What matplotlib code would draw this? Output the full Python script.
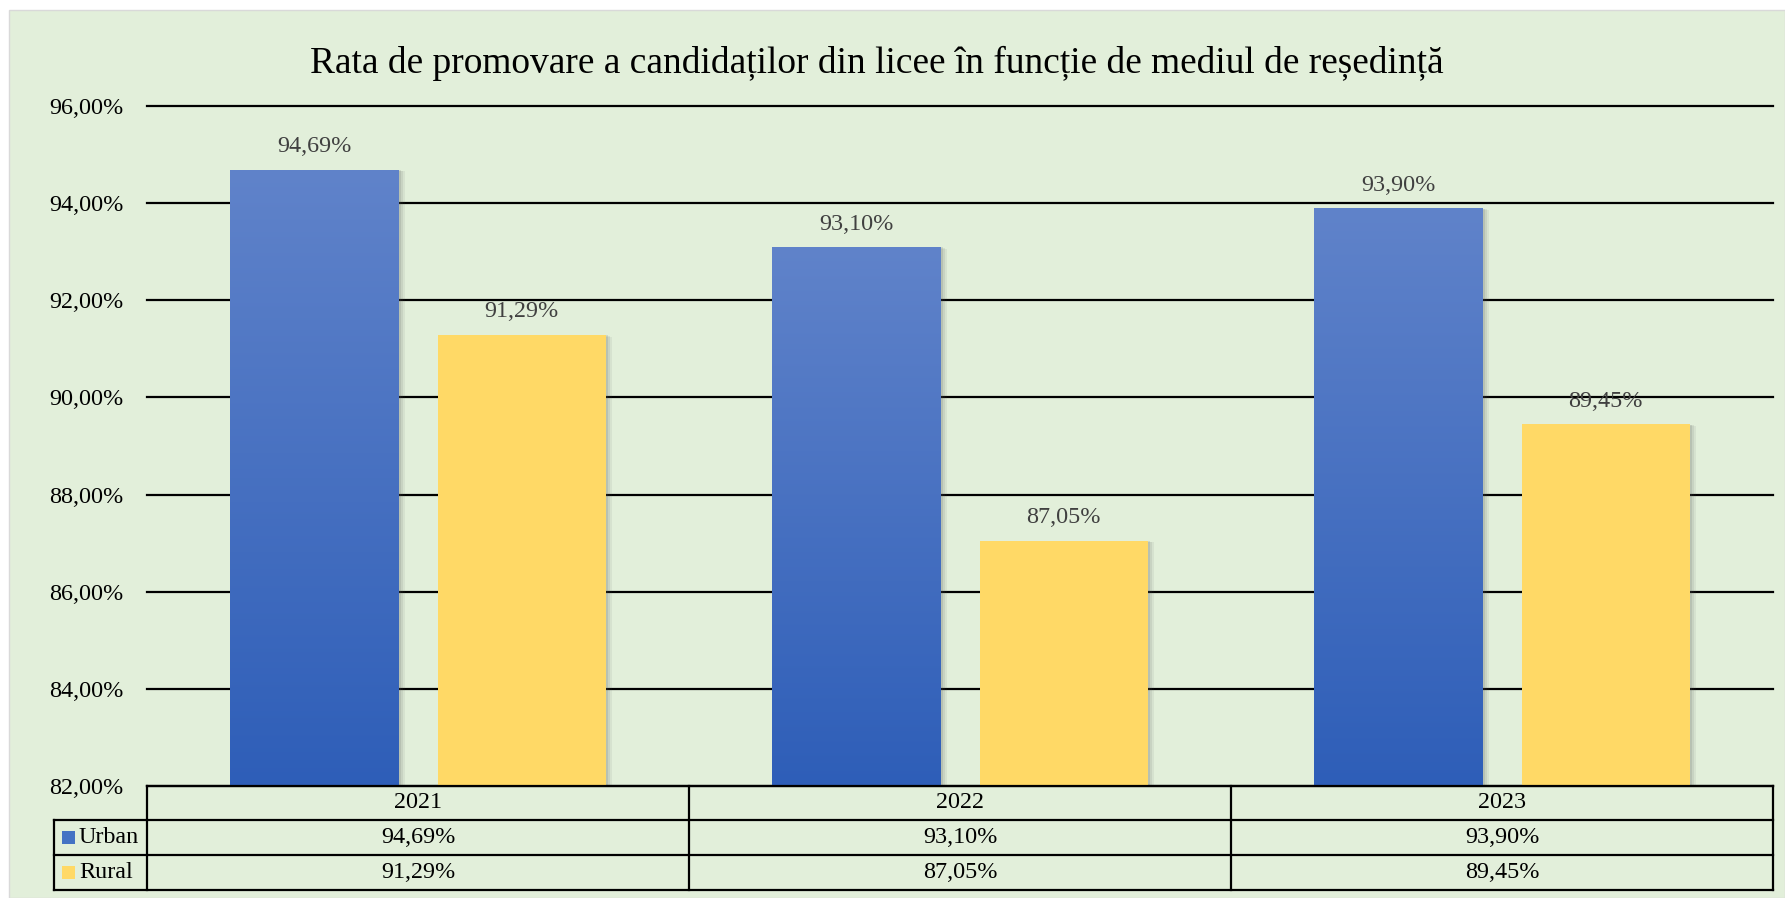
import numpy as np
import matplotlib
matplotlib.use("Agg")
import matplotlib.pyplot as plt
from matplotlib.patches import Rectangle

plt.rcParams['font.family'] = ['Liberation Serif', 'DejaVu Serif']

# date
ani = ['2021', '2022', '2023']
serii = ['Urban', 'Rural']
urban = [94.69, 93.10, 93.90]
rural = [91.29, 87.05, 89.45]
y_ticks = [82, 84, 86, 88, 90, 92, 94, 96]

fundal = '#E2EFDA'
albastru_sus = np.array([96, 131, 202]) / 255
albastru_jos = np.array([46, 94, 184]) / 255
galben = '#FFD966'
fs = 17.4


def fmt(v):
    return f"{v:.2f}".replace('.', ',') + '%'


W, H = 1785, 898
fig = plt.figure(figsize=(W / 100, H / 100), dpi=100)
fig.patch.set_facecolor('white')
fig.patches.append(Rectangle((9 / W, 0), 1 - 9 / W, 1 - 10 / H, transform=fig.transFigure,
                             facecolor=fundal, edgecolor='#d9d9d9', lw=1, zorder=-10))

x0, x1 = 147, 1773
y_top, y_bot = 106, 786
ax = fig.add_axes([x0 / W, 1 - y_bot / H, (x1 - x0) / W, (y_bot - y_top) / H])
ax.set_facecolor('none')
for s in ax.spines.values():
    s.set_visible(False)
ax.set_xticks([])
ax.set_yticks(y_ticks)
ax.set_yticklabels([fmt(v) for v in y_ticks], fontsize=fs)
ax.tick_params(axis='y', length=0, pad=17)
for v in y_ticks:
    ax.axhline(v, color='black', lw=1.6, zorder=1, clip_on=False)

x = np.arange(len(ani))
lat = 0.31
off = 0.191

grad = np.linspace(0, 1, 256)
grad_img = np.zeros((256, 1, 3))
for k in range(3):
    grad_img[:, 0, k] = albastru_jos[k] + (albastru_sus[k] - albastru_jos[k]) * grad

for i in range(len(ani)):
    # umbra
    for xs, val in [(x[i] - off, urban[i]), (x[i] + off, rural[i])]:
        for d, a in [(0.012, 0.08), (0.008, 0.10), (0.004, 0.14)]:
            ax.add_patch(Rectangle((xs - lat / 2 + d, 82), lat, val - 82 - d * 3,
                                   facecolor='#555555', alpha=a, lw=0, zorder=2))
    b = ax.bar(x[i] - off, urban[i] - 82, bottom=82, width=lat, color=albastru_jos, zorder=3)[0]
    im = ax.imshow(grad_img, extent=(x[i] - off - lat / 2, x[i] - off + lat / 2, 82, urban[i]),
                   origin='lower', aspect='auto', zorder=3.5)
    im.set_clip_path(b)
    ax.bar(x[i] + off, rural[i] - 82, bottom=82, width=lat, color=galben, zorder=3)
    ax.text(x[i] - off, urban[i] + 0.47, fmt(urban[i]), ha='center', va='center',
            fontsize=fs, color='#404040', zorder=5)
    ax.text(x[i] + off, rural[i] + 0.47, fmt(rural[i]), ha='center', va='center',
            fontsize=fs, color='#404040', zorder=5)

ax.set_xlim(-0.5, 2.5)
ax.set_ylim(82, 96)

fig.text(877 / W, 1 - 63 / H, 'Rata de promovare a candidaților din licee în funcție de mediul de reședință',
         ha='center', va='center', fontsize=26.9)


# tabel de date
def fy(py):
    return 1 - py / H


def fx(px):
    return px / W


rows = [786, 820, 855, 890]
cols = [689, 1231]
lc = 'black'
lw = 1.6
fig.add_artist(plt.Line2D([fx(x0), fx(x1)], [fy(rows[0])] * 2, color=lc, lw=lw))
for r in rows[1:]:
    fig.add_artist(plt.Line2D([fx(54), fx(x1)], [fy(r)] * 2, color=lc, lw=lw))
fig.add_artist(plt.Line2D([fx(54)] * 2, [fy(rows[1]), fy(rows[3])], color=lc, lw=lw))
for cx in [x0] + cols + [x1]:
    fig.add_artist(plt.Line2D([fx(cx)] * 2, [fy(rows[0]), fy(rows[3])], color=lc, lw=lw))

for i in range(len(ani)):
    cx = fx(ax.transData.transform((x[i], 82))[0])
    fig.text(cx, fy((rows[0] + rows[1]) / 2), ani[i], ha='center', va='center', fontsize=fs)
    fig.text(cx, fy((rows[1] + rows[2]) / 2), fmt(urban[i]), ha='center', va='center', fontsize=fs)
    fig.text(cx, fy((rows[2] + rows[3]) / 2), fmt(rural[i]), ha='center', va='center', fontsize=fs)

for j, (nume, col) in enumerate(zip(serii, ['#4472C4', galben])):
    cy = (rows[j + 1] + rows[j + 2]) / 2
    fig.patches.append(Rectangle((fx(62), fy(cy + 6.5)), 13 / W, 13 / H, transform=fig.transFigure,
                                 facecolor=col, edgecolor='none'))
    fig.text(fx(79), fy(cy), nume, ha='left', va='center', fontsize=fs)

fig.savefig('out.png', dpi=100, facecolor=fig.get_facecolor())
